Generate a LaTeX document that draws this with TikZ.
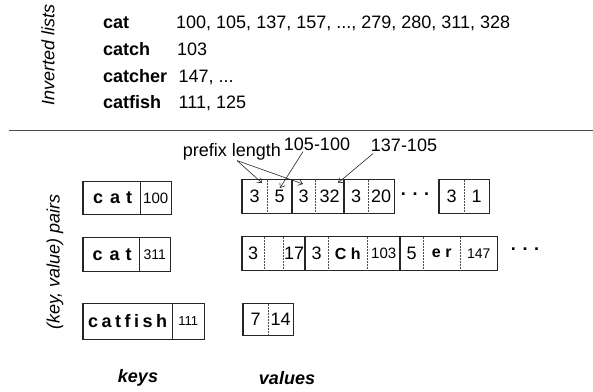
\documentclass[tikz,border=0pt]{standalone}
\usepackage{fontspec}
\setmainfont{Liberation Sans}
\usetikzlibrary{arrows.meta}
\tikzset{
  big/.style={font=\fontsize{18}{20}\selectfont},
  top/.style={font=\fontsize{18}{20}\selectfont},
  topb/.style={font=\bfseries\fontsize{18}{20}\selectfont},
  rot/.style={font=\itshape\fontsize{18}{20}\selectfont, rotate=90},
  caption/.style={font=\bfseries\itshape\fontsize{18}{20}\selectfont},
  cell/.style={anchor=west, inner sep=0pt, minimum height=33pt, font=\fontsize{18}{20}\selectfont},
  boldcell/.style={cell, font=\bfseries\fontsize{16}{18}\selectfont},
  keycell/.style={cell, font=\bfseries\fontsize{18}{20}\selectfont},
  smallcell/.style={cell, font=\fontsize{15}{17}\selectfont},
  box/.style={draw=black!85, line width=1.2pt},
  sep/.style={draw=black!70, line width=0.5pt, densely dotted},
  solidsep/.style={draw=black!85, line width=1.2pt},
  pointer/.style={draw=black!85, line width=0.6pt, -{Straight Barb[length=4pt,width=6pt]}},
  dots/.style={font=\bfseries\fontsize{18}{20}\selectfont, inner sep=0pt}
}
\begin{document}
\begin{tikzpicture}[x=1pt,y=-1pt]
\useasboundingbox (0,0) rectangle (593,391);
% ---------- top: inverted lists ----------
\node[rot] (invl) at (48,55) {Inverted lists};
\node[topb, anchor=base west, inner sep=0pt] (w1) at (103,28.5) {cat};
\node[topb, anchor=base west, inner sep=0pt] (w2) at (103,55.3) {catch};
\node[topb, anchor=base west, inner sep=0pt] (w3) at (103,82) {catcher};
\node[topb, anchor=base west, inner sep=0pt] (w4) at (103,108.8) {catfish};
\node[top, anchor=base west, inner sep=0pt] (l1) at (176,28.5) {100, 105, 137, 157, ..., 279, 280, 311, 328};
\node[top, anchor=base west, inner sep=0pt] (l2) at (177,55.3) {103};
\node[top, anchor=base west, inner sep=0pt] (l3) at (178.5,82) {147, ...};
\node[top, anchor=base west, inner sep=0pt] (l4) at (178.5,108.8) {111, 125};
\coordinate (hl) at (9,130);
\coordinate (hr) at (593,130);
\draw[draw=black!70, line width=1pt] (hl) -- (hr);
% ---------- labels ----------
\node[rot] (kvp) at (55,262) {(key, value) pairs};
\node[caption] (keys) at (138,378) {keys};
\node[caption] (vals) at (287,378) {values};
\node[big, inner sep=0pt] (pl) at (232,152) {prefix length};
\node[big, inner sep=0pt] (d1) at (317,144) {105-100};
\node[big, inner sep=0pt] (d2) at (404,145) {137-105};
% ---------- keys ----------
\node[keycell, minimum width=57pt, minimum height=32pt] (k1a) at (83,198) {\hspace{2pt}c\hspace{7pt}a\hspace{6pt}t};
\node[smallcell, minimum width=31pt, minimum height=32pt] (k1b) at (140,198) {100};
\node[keycell, minimum width=56pt] (k2a) at (83,254.5) {\hspace{2pt}c\hspace{7pt}a\hspace{6pt}t};
\node[smallcell, minimum width=31pt, font=\fontsize{14}{16}\selectfont] (k2b) at (139,254.5) {311};
\node[keycell, minimum width=89pt, minimum height=35pt] (k3a) at (83,321.5) {c\kern3.5pt a\kern3.5pt t\kern3.5pt f\kern3.5pt i\kern3.5pt s\kern3.5pt h};
\node[smallcell, minimum width=32pt, minimum height=35pt, font=\fontsize{13}{15}\selectfont] (k3b) at (172,321.5) {111};
\draw[box] (k1a.north west) rectangle (k1b.south east);
\draw[solidsep] (k1a.north east) -- (k1a.south east);
\draw[box] (k2a.north west) rectangle (k2b.south east);
\draw[solidsep] (k2a.north east) -- (k2a.south east);
\draw[box] (k3a.north west) rectangle (k3b.south east);
\draw[solidsep] (k3a.north east) -- (k3a.south east);
% ---------- values row 1 ----------
\node[cell, minimum width=25pt] (r1a) at (242,196.5) {3};
\node[cell, minimum width=25pt] (r1b) at (267,196.5) {5};
\node[cell, minimum width=23pt] (r1c) at (292,196.5) {3};
\node[cell, minimum width=29pt] (r1d) at (315,196.5) {32};
\node[cell, minimum width=24pt] (r1e) at (344,196.5) {3};
\node[cell, minimum width=26pt] (r1f) at (368,196.5) {20};
\node[dots] (r1dots) at (415,194) {. . .};
\node[cell, minimum width=25pt] (r1g) at (439,196.5) {3};
\node[cell, minimum width=25pt] (r1h) at (464,196.5) {1};
\draw[box] (r1a.north west) rectangle (r1b.south east);
\draw[sep] (r1a.north east) -- (r1a.south east);
\draw[box] (r1c.north west) rectangle (r1d.south east);
\draw[sep] (r1c.north east) -- (r1c.south east);
\draw[box] (r1e.north west) rectangle (r1f.south east);
\draw[sep] (r1e.north east) -- (r1e.south east);
\draw[box] (r1g.north west) rectangle (r1h.south east);
\draw[sep] (r1g.north east) -- (r1g.south east);
% ---------- values row 2 ----------
\node[cell, minimum width=22pt] (r2a) at (242,253.5) {3};
\node[cell, minimum width=19pt] (r2b) at (264,253.5) {};
\node[cell, minimum width=22pt] (r2c) at (283,253.5) {17};
\node[cell, minimum width=23pt] (r2d) at (305,253.5) {3};
\node[boldcell, minimum width=39pt] (r2e) at (328,253.5) {C h};
\node[smallcell, minimum width=33pt] (r2f) at (367,253.5) {103};
\node[cell, minimum width=23pt] (r2g) at (400,253.5) {5};
\node[boldcell, minimum width=37pt] (r2h) at (423,253.5) {e r};
\node[smallcell, minimum width=37pt, font=\fontsize{14}{16}\selectfont] (r2i) at (460,253.5) {147};
\node[dots] (r2dots) at (525,249) {. . .};
\draw[box] (r2a.north west) rectangle (r2c.south east);
\draw[sep] (r2a.north east) -- (r2a.south east);
\draw[sep] (r2b.north east) -- (r2b.south east);
\draw[box] (r2d.north west) rectangle (r2f.south east);
\draw[sep] (r2d.north east) -- (r2d.south east);
\draw[sep] (r2e.north east) -- (r2e.south east);
\draw[box] (r2g.north west) rectangle (r2i.south east);
\draw[sep] (r2g.north east) -- (r2g.south east);
\draw[sep] (r2h.north east) -- (r2h.south east);
% ---------- values row 3 ----------
\node[cell, minimum width=25pt, minimum height=31pt] (r3a) at (243,319.5) {7};
\node[cell, minimum width=25pt, minimum height=31pt] (r3b) at (268,319.5) {14};
\draw[box] (r3a.north west) rectangle (r3b.south east);
\draw[sep] (r3a.north east) -- (r3a.south east);
% ---------- arrows ----------
\coordinate (t1) at (262,183);
\coordinate (t2) at (303,184);
\coordinate (t3) at (280,188);
\coordinate (t4) at (338,183);
\draw[pointer] ([xshift=5pt]pl.south) -- (t1);
\draw[pointer] ([xshift=5pt]pl.south) -- (t2);
\draw[pointer] ([xshift=-14pt,yshift=-1pt]d1.south) -- (t3);
\draw[pointer] ([xshift=-31pt,yshift=-2pt]d2.south) -- (t4);
\end{tikzpicture}
\end{document}
